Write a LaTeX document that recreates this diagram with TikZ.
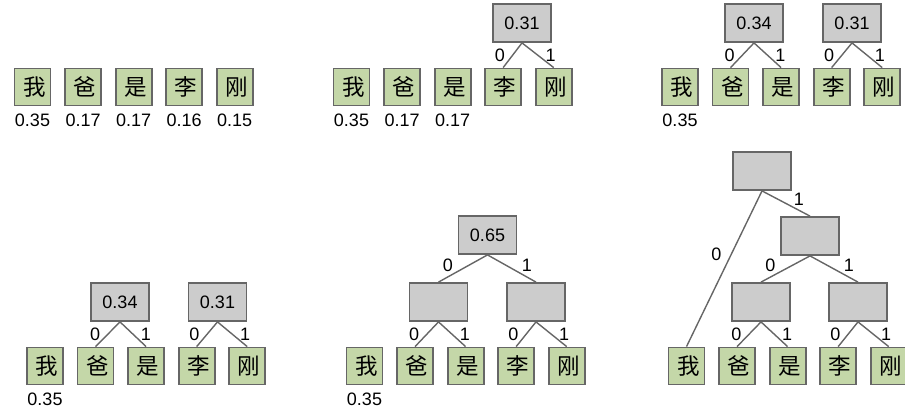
\documentclass[tikz,border=0pt]{standalone}
\usepackage{fontspec}
\setmainfont{Liberation Sans}
\newfontfamily\cjkfont{Noto Sans CJK SC}
\usepackage{tikz}
\usetikzlibrary{positioning}

\definecolor{leafgreen}{HTML}{C4D7A8}
\definecolor{sumgray}{HTML}{CCCCCC}
\definecolor{linegray}{HTML}{666666}

\begin{document}
\begin{tikzpicture}[
  x=1pt, y=-1pt,
  every node/.style={font=\fontsize{18}{20}\selectfont},
  wordbox/.style={draw=linegray, fill=leafgreen, line width=1.8pt, minimum width=36pt,
    minimum height=37pt, inner sep=0pt, font=\cjkfont\fontsize{22.5}{24}\selectfont,
    execute at begin node=\hspace*{4pt}},
  sumbox/.style={draw=linegray, fill=sumgray, line width=1.8pt, minimum width=58pt,
    minimum height=38pt, inner sep=0pt},
  prob/.style={inner sep=1pt},
  bit/.style={inner sep=1pt},
  link/.style={draw=linegray, line width=1.4pt},
  node distance=12.75pt
]
\useasboundingbox (0,0) rectangle (905,418);

%--------------------------------------------------
% top left: the five words
%--------------------------------------------------
\node[wordbox] (a1) at (32.5,87) {我};
\node[wordbox, right=of a1] (a2) {爸};
\node[wordbox, right=of a2] (a3) {是};
\node[wordbox, right=of a3] (a4) {李};
\node[wordbox, right=of a4] (a5) {刚};

\node[prob, below=6pt of a1] (pa1) {0.35};
\node[prob, below=6pt of a2] (pa2) {0.17};
\node[prob, below=6pt of a3] (pa3) {0.17};
\node[prob, below=6pt of a4] (pa4) {0.16};
\node[prob, below=6pt of a5] (pa5) {0.15};

%--------------------------------------------------
% top middle: merge the two smallest
%--------------------------------------------------
\node[wordbox] (b1) at (351.5,87) {我};
\node[wordbox, right=of b1] (b2) {爸};
\node[wordbox, right=of b2] (b3) {是};
\node[wordbox, right=of b3] (b4) {李};
\node[wordbox, right=of b4] (b5) {刚};

\node[prob, below=6pt of b1] (pb1) {0.35};
\node[prob, below=6pt of b2] (pb2) {0.17};
\node[prob, below=6pt of b3] (pb3) {0.17};

\node[sumbox] (b45) at (522,23) {0.31};
\draw[link] (b45.south) -- node[bit, pos=.5, left=6pt] (lb4) {0} (b4.north);
\draw[link] (b45.south) -- node[bit, pos=.5, right=6pt] (lb5) {1} (b5.north);

%--------------------------------------------------
% top right: two pairs
%--------------------------------------------------
\node[wordbox] (c1) at (680,87) {我};
\node[wordbox, right=of c1] (c2) {爸};
\node[wordbox, right=of c2] (c3) {是};
\node[wordbox, right=of c3] (c4) {李};
\node[wordbox, right=of c4] (c5) {刚};

\node[prob, below=6pt of c1] (pc1) {0.35};

\node[sumbox] (c23) at (754,23) {0.34};
\node[sumbox] (c45) at (852,23) {0.31};
\draw[link] (c23.south) -- node[bit, pos=.5, left=6pt] (lc2) {0} (c2.north);
\draw[link] (c23.south) -- node[bit, pos=.5, right=6pt] (lc3) {1} (c3.north);
\draw[link] (c45.south) -- node[bit, pos=.5, left=6pt] (lc4) {0} (c4.north);
\draw[link] (c45.south) -- node[bit, pos=.5, right=6pt] (lc5) {1} (c5.north);

%--------------------------------------------------
% bottom left: same two pairs
%--------------------------------------------------
\node[wordbox] (d1) at (45,366) {我};
\node[wordbox, right=of d1] (d2) {爸};
\node[wordbox, right=of d2] (d3) {是};
\node[wordbox, right=of d3] (d4) {李};
\node[wordbox, right=of d4] (d5) {刚};

\node[prob, below=6pt of d1] (pd1) {0.35};

\node[sumbox] (d23) at (120,302) {0.34};
\node[sumbox] (d45) at (217.5,302) {0.31};
\draw[link] (d23.south) -- node[bit, pos=.5, left=6pt] (ld2) {0} (d2.north);
\draw[link] (d23.south) -- node[bit, pos=.5, right=6pt] (ld3) {1} (d3.north);
\draw[link] (d45.south) -- node[bit, pos=.5, left=6pt] (ld4) {0} (d4.north);
\draw[link] (d45.south) -- node[bit, pos=.5, right=6pt] (ld5) {1} (d5.north);

%--------------------------------------------------
% bottom middle: pairs merged
%--------------------------------------------------
\node[wordbox] (e1) at (364.5,366) {我};
\node[wordbox, right=of e1] (e2) {爸};
\node[wordbox, right=of e2] (e3) {是};
\node[wordbox, right=of e3] (e4) {李};
\node[wordbox, right=of e4] (e5) {刚};

\node[prob, below=6pt of e1] (pe1) {0.35};

\node[sumbox] (e23) at (438.5,302) {};
\node[sumbox] (e45) at (536,302) {};
\node[sumbox] (e25) at (487.5,235) {0.65};
\draw[link] (e23.south) -- node[bit, pos=.5, left=6pt] (le2) {0} (e2.north);
\draw[link] (e23.south) -- node[bit, pos=.5, right=6pt] (le3) {1} (e3.north);
\draw[link] (e45.south) -- node[bit, pos=.5, left=6pt] (le4) {0} (e4.north);
\draw[link] (e45.south) -- node[bit, pos=.5, right=6pt] (le5) {1} (e5.north);
\draw[link] (e25.south) -- node[bit, pos=.81, above=4pt] (le23) {0} (e23.north);
\draw[link] (e25.south) -- node[bit, pos=.81, above=4pt] (le45) {1} (e45.north);

%--------------------------------------------------
% bottom right: full tree
%--------------------------------------------------
\node[wordbox] (f1) at (686.5,366) {我};
\node[wordbox, right=of f1] (f2) {爸};
\node[wordbox, right=of f2] (f3) {是};
\node[wordbox, right=of f3] (f4) {李};
\node[wordbox, right=of f4] (f5) {刚};

\node[sumbox] (f23) at (761,302) {};
\node[sumbox] (f45) at (858,302) {};
\node[sumbox] (f25) at (810,236) {};
\node[sumbox] (root) at (762,171) {};
\draw[link] (f23.south) -- node[bit, pos=.5, left=6pt] (lf2) {0} (f2.north);
\draw[link] (f23.south) -- node[bit, pos=.5, right=6pt] (lf3) {1} (f3.north);
\draw[link] (f45.south) -- node[bit, pos=.5, left=6pt] (lf4) {0} (f4.north);
\draw[link] (f45.south) -- node[bit, pos=.5, right=6pt] (lf5) {1} (f5.north);
\draw[link] (f25.south) -- node[bit, pos=.81, above=4pt] (lf23) {0} (f23.north);
\draw[link] (f25.south) -- node[bit, pos=.81, above=4pt] (lf45) {1} (f45.north);
\draw[link] (root.south) -- node[bit, pos=.41, left=8pt] (lf1) {0} (f1.north);
\draw[link] (root.south) -- node[bit, pos=.77, above=3pt] (lf25) {1} (f25.north);

\end{tikzpicture}
\end{document}
